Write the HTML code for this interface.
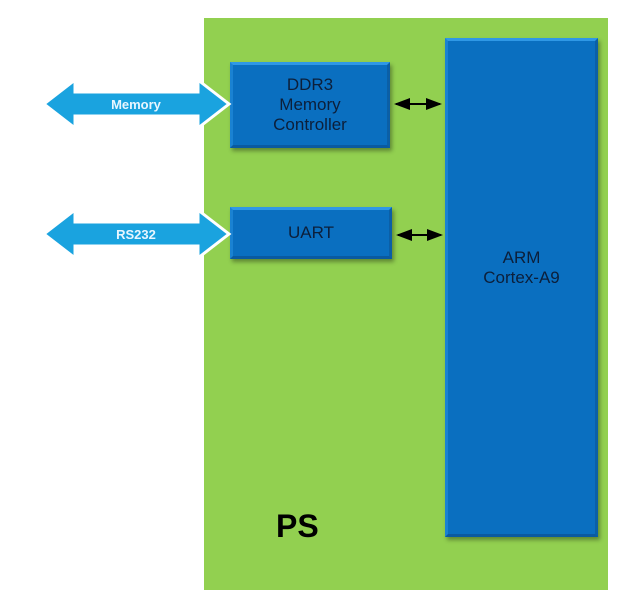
<!DOCTYPE html>
<html><head><style>
body{margin:0;width:621px;height:604px;background:#fff;position:relative;overflow:hidden;font-family:"Liberation Sans",sans-serif}
.g{position:absolute;left:204px;top:18px;width:404px;height:572px;background:#92d050}
.b{position:absolute;background:#0a6fc0;box-shadow:2px 3px 4px rgba(0,0,0,.35);border-top:3px solid #2f98e6;border-left:3px solid #1a82d2;border-right:3px solid #0b5fa6;border-bottom:3px solid #0a5aa0;box-sizing:border-box;display:flex;align-items:center;justify-content:center;text-align:center;color:#0c1f3a;font-size:17px;line-height:20px}
</style></head><body>
<div class="g"></div>
<div class="b" style="left:230px;top:62px;width:160px;height:86px">DDR3<br>Memory<br>Controller</div>
<div class="b" style="left:230px;top:207px;width:162px;height:52px">UART</div>
<div class="b" style="left:445px;top:38px;width:153px;height:499px;padding-bottom:40px">ARM<br>Cortex-A9</div>
<div style="position:absolute;left:276px;top:508px;font-size:32px;font-weight:bold;color:#000">PS</div>
<svg width="621" height="604" style="position:absolute;left:0;top:0">
<defs><marker id="a" markerWidth="8" markerHeight="8" refX="7" refY="4" orient="auto-start-reverse"><path d="M0,1 L8,4 L0,7z" fill="#000"/></marker></defs>
<line x1="396" y1="104" x2="440" y2="104" stroke="#000" stroke-width="2" marker-start="url(#a)" marker-end="url(#a)"/>
<line x1="398" y1="235" x2="441" y2="235" stroke="#000" stroke-width="2" marker-start="url(#a)" marker-end="url(#a)"/>
<g fill="#1aa3df" stroke="#fff" stroke-width="3">
<path d="M44,104 L75,80 L75,92 L198,92 L198,80 L229,104 L198,128 L198,116 L75,116 L75,128z"/>
<path d="M44,234 L75,210 L75,222 L198,222 L198,210 L229,234 L198,258 L198,246 L75,246 L75,258z"/>
</g>
<text x="136" y="109" text-anchor="middle" font-size="13" font-weight="bold" fill="#e8f6ff" font-family="Liberation Sans">Memory</text>
<text x="136" y="239" text-anchor="middle" font-size="13" font-weight="bold" fill="#e8f6ff" font-family="Liberation Sans">RS232</text>
</svg>
</body></html>
